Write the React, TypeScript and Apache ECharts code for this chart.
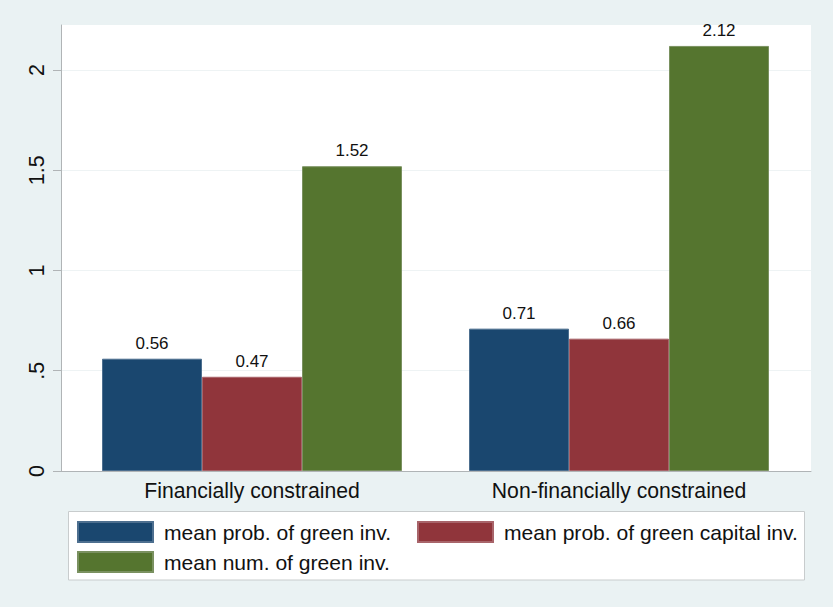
import React, { useEffect, useRef } from "react";
import * as echarts from "echarts";

const categories = ["Financially constrained", "Non-financially constrained"];
const seriesNames = [
  "mean prob. of green inv.",
  "mean prob. of green capital inv.",
  "mean num. of green inv.",
];
const probGreenInv = [0.56, 0.71];
const probGreenCapitalInv = [0.47, 0.66];
const numGreenInv = [1.52, 2.12];
const yTicks = [0, 0.5, 1, 1.5, 2];

const colors = ["#1a476f", "#90353b", "#55752f"];
const borders = ["#4d6f8f", "#a8646a", "#7a9160"];
const FONT = "'Liberation Sans', Arial, Helvetica, sans-serif";

export default function App() {
  const ref = useRef<HTMLDivElement>(null);
  useEffect(() => {
    if (!ref.current) return;
    const chart = echarts.init(ref.current, null, { renderer: "svg" });
    const yMax = 2.2244;
    const fmt = (v: number) => {
      if (!yTicks.some((t) => Math.abs(t - v) < 1e-9)) return "";
      if (v === 0) return "0";
      return String(v).replace(/^0\./, ".");
    };
    const values = [probGreenInv, probGreenCapitalInv, numGreenInv];
    const legendPos = [
      { left: 77, top: 521 },
      { left: 417, top: 521 },
      { left: 77, top: 551 },
    ];
    chart.setOption({
      animation: false,
      backgroundColor: "#eaf2f3",
      textStyle: { fontFamily: FONT },
      grid: [
        { left: 61, right: 22, top: 25, bottom: 136, show: true, backgroundColor: "#ffffff", borderWidth: 0 },
        { left: 68.5, width: 734, top: 25, bottom: 136 },
      ],
      xAxis: [
        {
          type: "category",
          gridIndex: 0,
          data: ["a"],
          axisLine: { show: true, lineStyle: { color: "#b0b4b6", width: 1 } },
          axisTick: { show: false },
          axisLabel: { show: false },
          splitLine: { show: false },
        },
        {
          type: "category",
          gridIndex: 1,
          data: categories,
          axisLine: { show: false },
          axisTick: { show: false },
          axisLabel: { fontSize: 21.2, color: "#111111", margin: 9, fontFamily: FONT },
        },
      ],
      yAxis: [
        {
          type: "value",
          gridIndex: 0,
          min: 0,
          max: yMax,
          interval: 0.5,
          axisLine: { show: true, lineStyle: { color: "#b0b4b6", width: 1 } },
          axisTick: { show: true, length: 8, lineStyle: { color: "#b0b4b6" }, customValues: yTicks },
          axisLabel: {
            rotate: 90,
            fontSize: 21.5,
            color: "#111111",
            margin: 13,
            formatter: fmt,
            customValues: yTicks,
            fontFamily: FONT,
          },
          splitLine: { show: true, lineStyle: { color: "#eef3f4", width: 1 } },
        },
        {
          type: "value",
          gridIndex: 1,
          min: 0,
          max: yMax,
          interval: 0.5,
          show: false,
          splitLine: { show: false },
        },
      ],
      legend: seriesNames.map((name, i) => ({
        data: [name],
        left: legendPos[i].left,
        top: legendPos[i].top,
        padding: 0,
        itemWidth: 75,
        itemHeight: 20,
        icon: "rect",
        selectedMode: false,
        textStyle: { fontSize: 21.1, color: "#111111", padding: [0, 0, 0, 6], fontFamily: FONT },
      })),
      graphic: [
        {
          type: "rect",
          shape: { x: 68.5, y: 511.5, width: 736, height: 68.5 },
          style: { fill: "#ffffff", stroke: "#c8cccd", lineWidth: 1 },
          z: -1,
          silent: true,
        },
      ],
      series: seriesNames.map((name, i) => ({
        name,
        type: "bar",
        xAxisIndex: 1,
        yAxisIndex: 1,
        data: values[i],
        barWidth: 100,
        barGap: "0%",
        itemStyle: { color: colors[i], borderColor: borders[i], borderWidth: 1 },
        label: {
          show: true,
          position: "top",
          distance: 7,
          fontSize: 17,
          color: "#111111",
          fontFamily: FONT,
          formatter: (p: any) => p.value.toFixed(2),
        },
      })),
    });
    return () => chart.dispose();
  }, []);
  return (
    <div
      ref={ref}
      style={{ position: "fixed", left: 0, top: 0, width: 833, height: 607 }}
    />
  );
}
